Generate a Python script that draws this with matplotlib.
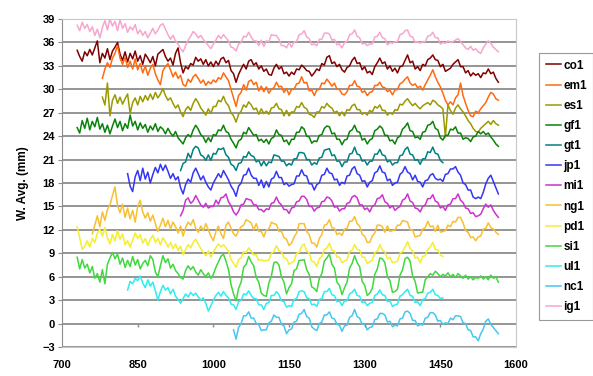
import numpy as np
import matplotlib
matplotlib.use('Agg')
import matplotlib.pyplot as plt

plt.rcParams['font.family'] = ['Liberation Sans', 'DejaVu Sans']
plt.rcParams['font.weight'] = 'bold'

# %%
# series values sampled every 5 years, start year given per series
names = ['co1', 'em1', 'es1', 'gf1', 'gt1', 'jp1', 'mi1',
         'ng1', 'pd1', 'si1', 'ul1', 'nc1', 'ig1']
starts = [730, 780, 780, 730, 935, 830, 935, 760, 730, 730, 830, 1040, 730]
colors = ['#800000', '#FF6A10', '#9A9A00', '#0A820A', '#008080', '#3535F5',
          '#CC33CC', '#F8C030', '#F4EE30', '#40D840', '#30ECF0', '#44C8F0',
          '#F7A6CE']

co1 = [35.0, 34.2, 33.6, 34.8, 34.3, 35.1, 34.4, 35.3, 36.2, 33.4,
       34.6, 34.0, 35.2, 33.8, 34.9, 35.4, 36.0, 34.5, 33.7, 34.8,
       33.5, 34.6, 33.9, 34.9, 33.6, 34.3, 33.2, 34.5, 34.0, 33.4,
       34.2, 33.0, 34.5, 34.8, 35.1, 34.2, 33.6, 34.0, 33.1, 34.6,
       35.3, 33.4, 32.1, 32.9, 32.6, 33.3, 33.1, 34.1, 33.6, 33.9,
       33.2, 33.8, 33.0, 33.5, 32.9, 33.6, 33.1, 33.9, 34.1, 33.4,
       33.7, 32.4, 32.0, 30.9, 31.9, 32.6, 33.2, 32.6, 33.6, 33.8,
       33.1, 33.4, 32.6, 33.0, 32.3, 32.6, 31.9, 31.8, 32.7, 33.2,
       32.6, 32.9, 32.0, 32.2, 31.7, 32.2, 31.9, 32.6, 32.5, 33.1,
       32.8, 32.4, 32.3, 31.7, 32.1, 32.6, 32.4, 33.3, 33.1, 34.1,
       34.3, 33.3, 33.5, 32.9, 33.2, 32.5, 32.2, 32.8, 33.0, 33.7,
       34.1, 33.3, 33.4, 32.5, 32.9, 32.1, 32.3, 31.9, 32.9, 33.4,
       34.0, 33.3, 33.5, 32.6, 33.0, 32.3, 32.7, 32.1, 32.9, 33.0,
       33.7, 34.4, 33.4, 33.6, 32.6, 32.9, 32.4, 33.2, 33.0, 33.8,
       34.0, 34.4, 33.8, 33.7, 32.9, 33.2, 32.3, 32.5, 32.7, 33.2,
       33.5, 33.8, 32.9, 32.9, 32.1, 32.4, 31.7, 32.1, 31.8, 32.0,
       31.5, 32.1, 32.0, 32.6, 32.0, 32.2, 31.4, 30.9]

em1 = [31.4, 32.6, 33.4, 32.8, 34.0, 34.6, 35.6, 34.0, 33.2, 34.1,
       32.8, 33.6, 32.6, 33.9, 32.5, 33.3, 32.1, 33.0, 31.8, 32.7,
       33.2, 32.0, 31.2, 30.6, 32.4, 32.9, 33.3, 32.5, 31.6, 32.2,
       31.4, 31.8, 30.6, 30.4, 31.3, 30.9, 31.6, 31.9, 31.4, 30.8,
       31.2, 30.5, 31.0, 30.7, 31.2, 30.9, 31.5, 31.3, 32.1, 31.6,
       31.1, 30.0, 28.9, 27.8, 29.2, 29.6, 30.6, 29.9, 31.0, 31.2,
       30.6, 30.9, 29.8, 30.4, 29.7, 30.3, 29.5, 30.0, 30.2, 30.9,
       30.3, 30.4, 29.6, 30.1, 29.3, 30.0, 30.0, 30.7, 30.8, 31.6,
       30.8, 30.9, 29.8, 29.9, 29.2, 29.9, 30.0, 30.8, 30.7, 31.3,
       30.9, 30.4, 30.8, 30.0, 30.0, 29.4, 29.3, 29.7, 30.5, 30.5,
       31.1, 30.4, 30.3, 29.6, 29.8, 29.2, 29.6, 29.7, 30.5, 30.5,
       30.9, 30.3, 30.2, 29.7, 29.9, 29.3, 29.9, 30.0, 30.7, 30.9,
       31.3, 31.6, 30.8, 30.5, 30.7, 30.2, 30.4, 29.9, 30.6, 31.2,
       31.8, 32.5, 31.6, 30.9, 30.3, 29.5, 28.6, 28.0, 28.4, 28.0,
       28.9, 29.3, 30.8, 29.2, 28.2, 27.3, 26.6, 26.5, 27.2, 27.0,
       27.5, 27.9, 28.3, 29.0, 29.6, 29.4, 28.8, 28.6]

es1 = [29.0, 28.0, 30.8, 26.6, 28.6, 29.3, 28.2, 29.0, 28.1, 28.8,
       29.4, 26.9, 28.3, 28.9, 28.0, 29.1, 28.4, 29.2, 28.6, 29.4,
       28.7, 29.6, 28.9, 29.4, 30.1, 29.2, 28.6, 28.9, 28.2, 27.6,
       28.0, 27.1, 26.5, 27.4, 27.8, 27.3, 28.2, 28.8, 28.3, 27.6,
       27.2, 26.7, 27.5, 26.9, 27.8, 27.8, 28.6, 28.4, 29.1, 28.3,
       27.9, 27.0, 26.6, 25.8, 26.8, 27.2, 28.0, 27.7, 28.4, 28.0,
       27.4, 27.6, 26.8, 27.5, 26.9, 27.2, 26.8, 27.6, 27.7, 28.2,
       27.5, 27.4, 26.6, 27.3, 26.6, 27.1, 27.1, 27.8, 27.7, 28.3,
       27.7, 27.5, 26.8, 26.7, 26.4, 27.1, 27.1, 27.8, 27.6, 28.2,
       27.8, 27.6, 27.0, 27.2, 26.6, 27.1, 26.6, 27.4, 27.3, 27.9,
       28.1, 27.4, 27.4, 26.8, 27.0, 26.7, 27.3, 27.1, 27.8, 27.6,
       28.0, 27.3, 27.3, 26.7, 27.0, 26.8, 27.4, 27.3, 28.1, 28.0,
       28.5, 28.8, 28.3, 27.9, 28.2, 27.8, 27.5, 27.9, 28.1, 28.3,
       28.0, 28.6, 28.4, 28.0, 27.8, 27.5, 23.9, 28.0, 27.3, 26.8,
       27.6, 28.0, 27.5, 27.1, 26.6, 26.0, 25.6, 25.0, 24.6, 24.5,
       25.0, 25.3, 25.6, 25.9, 25.5, 26.0, 25.6, 25.4]

gf1 = [25.1, 24.4, 26.0, 25.0, 26.3, 24.8, 25.9, 25.2, 26.4, 24.9,
       25.6, 24.5, 25.4, 24.3, 25.3, 26.2, 25.1, 25.9, 24.7, 25.6,
       25.0, 26.7, 25.3, 25.9, 24.8, 25.7, 25.0, 25.5, 24.5, 25.3,
       24.8, 25.6, 24.6, 25.2, 24.9, 24.3, 25.0, 24.4, 24.0, 24.6,
       23.8, 23.4, 23.0, 23.8, 24.2, 23.9, 24.8, 25.4, 24.9, 24.2,
       23.9, 23.2, 23.8, 23.3, 24.2, 24.1, 24.8, 24.7, 25.4, 24.6,
       24.4, 23.6, 23.1, 22.5, 23.4, 23.6, 24.5, 24.3, 25.1, 24.6,
       24.1, 24.2, 23.4, 23.6, 23.2, 23.6, 23.0, 23.7, 23.9, 24.8,
       24.2, 24.1, 23.3, 23.5, 22.9, 23.6, 23.6, 24.5, 24.5, 25.2,
       24.9, 24.0, 23.9, 23.1, 23.4, 23.3, 24.1, 24.2, 25.0, 25.3,
       25.2, 24.3, 24.4, 23.6, 23.6, 22.9, 23.5, 23.6, 24.6, 24.8,
       25.4, 24.6, 24.5, 23.5, 23.7, 23.0, 23.5, 23.7, 24.7, 24.9,
       25.3, 25.0, 24.1, 24.1, 23.4, 23.5, 23.0, 23.8, 24.0, 24.9,
       25.2, 25.7, 24.7, 24.6, 23.8, 23.9, 23.6, 24.5, 24.6, 25.4,
       25.5, 25.9, 25.0, 24.8, 23.8, 23.5, 24.1, 24.1, 24.9, 24.8,
       25.2, 24.4, 24.4, 23.6, 23.8, 23.7, 23.3, 23.9, 24.0, 24.6,
       24.3, 24.6, 24.2, 24.4, 23.9, 23.5, 23.0, 22.7]

gt1 = [19.6, 20.5, 20.7, 21.8, 21.2, 22.3, 22.7, 22.5, 21.6, 21.4,
       20.9, 21.6, 20.9, 21.8, 21.7, 22.4, 22.3, 22.5, 21.6, 21.3,
       20.4, 20.2, 19.6, 20.5, 20.6, 21.4, 21.3, 22.0, 21.5, 21.4,
       20.7, 20.9, 20.2, 20.8, 20.2, 20.7, 20.6, 21.6, 21.5, 21.4,
       20.8, 20.8, 20.2, 20.5, 20.3, 21.1, 21.1, 21.9, 21.9, 21.8,
       21.0, 21.0, 20.3, 20.6, 20.4, 21.2, 21.3, 22.2, 22.3, 22.4,
       21.5, 21.6, 20.8, 20.8, 20.1, 20.7, 20.7, 21.7, 21.8, 22.6,
       21.7, 21.6, 20.8, 20.9, 20.3, 20.8, 20.8, 21.7, 21.7, 22.3,
       21.6, 21.5, 20.7, 20.9, 20.3, 20.6, 20.6, 21.5, 21.6, 22.3,
       22.6, 21.7, 21.6, 20.9, 21.0, 20.4, 21.1, 21.1, 22.0, 21.9,
       22.6, 21.8, 21.7, 20.9, 20.6]

jp1 = [19.2, 17.6, 16.9, 18.8, 19.6, 18.3, 19.9, 18.5, 19.4, 18.0,
       19.1, 20.0, 19.3, 20.4, 19.6, 20.3, 19.5, 18.6, 19.2, 18.4,
       18.8, 17.4, 16.6, 17.8, 18.5, 18.1, 19.3, 19.9, 19.2, 18.4,
       18.9, 18.1, 17.5, 17.1, 18.0, 18.6, 19.2, 18.7, 19.6, 19.0,
       18.4, 17.6, 17.1, 16.3, 17.6, 18.0, 19.0, 19.1, 19.9, 19.0,
       18.6, 18.6, 17.7, 18.4, 17.4, 18.2, 17.5, 18.5, 18.7, 19.5,
       18.7, 18.7, 17.8, 18.0, 17.6, 17.8, 17.9, 18.9, 18.9, 19.7,
       19.0, 18.9, 17.9, 17.9, 17.1, 17.8, 18.0, 19.0, 19.1, 19.9,
       19.3, 19.2, 18.4, 18.5, 17.7, 18.1, 17.9, 18.9, 19.0, 19.8,
       20.1, 19.2, 19.0, 18.2, 18.3, 17.5, 18.1, 18.3, 19.3, 19.5,
       20.2, 19.4, 19.3, 18.3, 18.5, 17.7, 18.0, 18.1, 19.1, 19.4,
       20.1, 19.4, 19.2, 18.4, 19.0, 18.2, 18.1, 17.5, 18.3, 18.4,
       19.0, 19.2, 18.6, 18.4, 18.5, 18.2, 19.1, 19.2, 19.8, 19.8,
       20.1, 19.4, 19.0, 18.0, 17.8, 17.1, 17.1, 16.2, 16.0, 16.2,
       16.0, 16.8, 17.9, 18.6, 19.0, 18.2, 17.4, 16.6]

mi1 = [13.8, 14.5, 15.8, 16.1, 15.4, 15.7, 16.4, 15.8, 15.2, 14.9,
       15.4, 14.8, 15.0, 15.0, 15.8, 15.3, 16.1, 16.2, 16.6, 15.6,
       15.1, 14.3, 13.9, 14.4, 15.2, 15.3, 16.0, 15.9, 15.8, 15.2,
       15.2, 14.6, 14.6, 14.3, 14.7, 14.6, 15.4, 15.5, 16.2, 15.5,
       15.2, 14.6, 14.6, 14.1, 14.8, 14.9, 15.6, 15.7, 16.3, 16.3,
       15.9, 15.0, 15.0, 14.4, 14.8, 14.9, 15.6, 15.7, 16.2, 16.1,
       15.7, 14.9, 15.0, 14.4, 14.7, 14.7, 15.4, 15.5, 16.2, 16.4,
       16.1, 15.2, 15.2, 14.6, 14.8, 14.3, 15.0, 15.2, 16.0, 16.1,
       16.5, 15.6, 15.4, 14.8, 15.1, 14.5, 14.8, 15.0, 15.8, 16.0,
       16.6, 15.7, 15.5, 14.8, 14.7, 14.3, 15.0, 15.2, 16.0, 16.0,
       16.5, 15.7, 15.5, 14.8, 15.0, 14.5, 15.2, 15.3, 16.0, 16.0,
       16.6, 15.8, 15.5, 14.8, 14.7, 14.1, 14.2, 13.7, 13.8, 14.0,
       14.7, 15.3, 14.9, 15.2, 14.5, 14.0, 13.6]

ng1 = [11.5, 12.6, 13.8, 12.4, 14.3, 13.2, 14.6, 15.2, 16.4, 17.5,
       15.1, 14.2, 15.3, 13.6, 14.8, 13.4, 14.5, 13.0, 15.0, 15.8,
       14.3, 13.5, 14.2, 13.1, 13.9, 12.8, 11.8, 12.6, 13.5, 12.4,
       13.2, 12.1, 13.0, 12.4, 11.6, 12.5, 11.2, 12.3, 13.0, 12.6,
       13.3, 12.2, 11.7, 12.5, 11.9, 12.8, 12.0, 11.2, 10.6, 11.8,
       12.5, 11.5, 10.9, 12.6, 13.0, 12.2, 11.5, 11.2, 11.9, 12.4,
       12.6, 13.3, 13.1, 12.9, 12.0, 12.8, 11.8, 11.8, 11.1, 12.0,
       12.1, 13.0, 12.8, 12.7, 11.8, 11.8, 11.0, 10.8, 10.0, 10.3,
       11.1, 11.6, 12.8, 12.8, 12.8, 11.8, 11.4, 10.3, 10.3, 9.8,
       10.9, 11.4, 12.6, 12.7, 13.3, 12.3, 12.2, 11.4, 11.6, 11.3,
       12.1, 12.2, 13.1, 13.1, 13.7, 12.8, 12.5, 11.4, 11.2, 10.4,
       10.4, 11.2, 11.6, 12.6, 12.6, 12.4, 11.7, 12.5, 11.8, 11.9,
       12.0, 12.6, 12.6, 13.2, 13.1, 13.0, 12.0, 12.0, 11.1, 11.2,
       11.3, 12.1, 12.3, 13.1, 12.4, 12.5, 11.8, 12.6, 11.7, 11.8,
       11.9, 12.6, 12.4, 13.1, 13.0, 13.6, 13.6, 12.9, 11.9, 11.7,
       11.0, 11.1, 10.6, 11.1, 11.2, 12.1, 12.2, 12.9, 12.3, 12.1,
       11.7, 11.4]

pd1 = [12.4, 11.0, 9.5, 9.9, 10.6, 9.8, 10.9, 10.4, 11.6, 12.1,
       11.2, 12.3, 11.0, 10.2, 11.4, 10.6, 11.9, 10.8, 11.5, 10.1,
       10.6, 9.8, 10.7, 11.6, 10.9, 11.4, 10.3, 10.9, 10.0, 10.8,
       11.3, 10.4, 10.9, 10.1, 11.0, 10.5, 9.8, 10.4, 9.6, 10.2,
       9.4, 9.9, 8.8, 9.5, 10.1, 9.7, 10.4, 10.8, 10.2, 9.6,
       9.1, 8.7, 9.3, 8.5, 9.2, 9.7, 10.2, 9.8, 10.1, 9.7,
       9.3, 8.2, 7.7, 7.2, 8.2, 8.4, 9.2, 9.1, 9.7, 9.3,
       8.8, 8.8, 8.1, 8.2, 8.0, 8.1, 8.1, 9.0, 9.2, 10.0,
       9.3, 9.2, 8.4, 8.3, 7.6, 7.8, 8.0, 9.0, 9.1, 9.9,
       10.2, 9.3, 9.0, 8.0, 7.9, 7.3, 8.3, 8.6, 9.5, 9.7,
       10.3, 9.4, 9.3, 8.5, 8.5, 7.8, 8.0, 8.2, 9.2, 9.4,
       10.1, 9.5, 9.4, 8.5, 8.5, 7.7, 7.9, 8.1, 9.1, 9.3,
       10.1, 9.4, 9.2, 8.3, 8.5, 7.8, 7.9, 8.0, 9.0, 9.2,
       9.8, 10.5, 9.6, 9.3, 8.4, 8.5, 7.8, 8.6, 8.7, 9.5,
       9.8, 10.4, 9.5, 9.4, 8.8, 8.6]

si1 = [8.5, 7.0, 8.2, 7.1, 7.6, 6.5, 7.3, 5.8, 6.4, 5.3,
       6.9, 5.1, 7.6, 8.4, 9.1, 8.3, 8.9, 7.6, 8.4, 7.2,
       8.1, 7.3, 8.6, 7.5, 8.2, 7.0, 7.7, 8.1, 7.4, 8.7,
       8.2, 6.6, 6.0, 7.4, 8.7, 7.8, 8.3, 7.1, 7.6, 6.8,
       6.4, 5.9, 5.7, 6.8, 7.4, 6.9, 7.3, 6.6, 6.2, 6.9,
       6.4, 6.0, 6.5, 5.8, 6.3, 7.2, 7.9, 8.6, 8.9, 8.0,
       6.9, 5.0, 3.8, 2.9, 4.5, 5.3, 7.2, 7.6, 8.6, 7.9,
       7.4, 5.9, 5.3, 3.9, 3.6, 3.5, 5.2, 6.1, 7.8, 7.9,
       7.5, 6.0, 5.3, 3.8, 4.6, 5.1, 6.8, 7.0, 8.1, 8.1,
       8.2, 6.9, 6.3, 4.7, 4.5, 4.1, 5.8, 6.4, 8.0, 8.4,
       8.9, 7.6, 7.1, 5.3, 4.9, 3.7, 4.6, 5.3, 7.1, 7.7,
       8.7, 7.8, 7.3, 5.4, 4.9, 3.6, 3.9, 4.5, 6.3, 7.0,
       8.4, 8.3, 7.8, 6.0, 5.5, 4.0, 4.1, 4.4, 6.2, 6.9,
       8.3, 8.5, 8.0, 6.1, 5.4, 3.9, 4.0, 4.0, 5.6, 6.0,
       6.4, 6.2, 6.7, 6.4, 6.0, 6.3, 6.1, 6.5, 6.0, 6.3,
       5.9, 6.4, 6.1, 5.8, 6.2, 5.7, 6.0, 5.6, 5.9, 5.8,
       6.1, 5.7, 6.0, 5.6, 6.2, 5.8, 6.0, 5.3]

ul1 = [4.3, 5.4, 5.1, 5.8, 5.5, 6.1, 5.2, 4.6, 5.6, 4.8,
       5.3, 4.2, 3.0, 4.1, 4.9, 4.3, 4.6, 3.8, 4.4, 3.5,
       3.1, 2.6, 3.2, 3.8, 3.4, 4.0, 3.6, 3.9, 3.4, 3.0,
       3.3, 2.6, 1.6, 2.3, 3.0, 3.6, 4.0, 3.5, 4.1, 3.6,
       3.3, 2.5, 2.4, 1.8, 2.8, 3.0, 3.8, 3.7, 4.2, 3.6,
       3.2, 3.2, 2.4, 2.4, 1.8, 2.6, 2.7, 3.6, 3.6, 4.1,
       3.7, 2.9, 2.8, 2.1, 2.3, 2.2, 3.1, 3.2, 4.1, 4.2,
       4.1, 3.3, 3.2, 2.4, 2.5, 2.2, 3.1, 3.2, 4.1, 4.1,
       4.5, 3.7, 3.6, 2.8, 2.9, 2.3, 2.9, 2.9, 3.8, 4.0,
       4.4, 3.6, 3.5, 2.7, 2.8, 2.3, 2.6, 2.7, 3.6, 3.8,
       4.3, 3.7, 3.6, 2.8, 2.9, 2.2, 2.4, 2.5, 3.5, 3.7,
       4.1, 4.4, 3.6, 3.5, 2.7, 2.8, 2.3, 3.1, 3.2, 3.9,
       4.0, 4.4, 3.7, 3.6, 3.2, 3.3]

nc1 = [-0.8, -2.0, -0.5, 0.0, 1.0, 1.0, 1.5, 0.7, 0.7, 0.0,
       -0.1, -0.9, -0.8, -0.8, 0.1, 0.3, 1.1, 0.8, 0.8, -0.1,
       -0.3, -1.3, -0.8, -0.7, 0.2, 0.3, 1.2, 1.3, 1.8, 0.9,
       0.7, -0.4, -0.7, -0.9, 0.0, 0.2, 1.1, 1.1, 1.5, 0.7,
       0.6, -0.1, -0.2, -1.0, -0.3, -0.2, 0.8, 1.0, 1.8, 0.9,
       0.7, -0.1, -0.1, -0.8, -0.5, -0.4, 0.5, 0.6, 1.3, 1.3,
       1.1, 0.2, 0.3, -0.4, -0.2, -0.3, 0.6, 0.7, 1.5, 1.6,
       1.3, 0.4, 0.4, -0.3, -0.1, -0.2, 0.7, 0.8, 1.4, 1.4,
       1.1, 0.3, 0.4, -0.1, 0.1, 0.0, 0.7, 0.5, 1.0, 1.0,
       0.9, 0.1, 0.0, -0.8, -0.9, -1.7, -1.7, -2.2, -1.3, -0.7,
       0.3, 0.6, -0.1, -0.5, -0.9, -1.3]

ig1 = [38.2, 37.5, 38.6, 37.8, 38.3, 37.4, 38.0, 36.9, 37.7, 36.6,
       37.9, 38.8, 37.6, 39.0, 38.1, 38.7, 37.5, 38.9, 37.8, 38.4,
       37.3, 38.0, 37.6, 38.3, 37.1, 37.6, 36.9, 37.4, 36.6, 37.2,
       37.8, 37.1, 37.6, 38.2, 38.4, 37.7, 37.0, 36.4, 36.9, 36.2,
       35.8, 35.2, 34.8, 35.6, 36.3, 36.8, 37.4, 37.1, 36.6, 36.9,
       36.4, 36.0, 35.6, 35.2, 35.8, 36.3, 36.9, 36.5, 37.0, 36.6,
       36.2, 35.4, 35.3, 34.9, 35.8, 36.0, 36.8, 36.7, 37.3, 36.7,
       36.2, 36.2, 35.6, 36.3, 35.5, 36.2, 36.1, 37.0, 36.9, 36.9,
       36.4, 35.6, 35.6, 35.3, 36.0, 35.4, 36.1, 36.1, 37.0, 37.1,
       37.5, 36.7, 36.5, 35.7, 35.8, 35.6, 36.4, 36.4, 37.2, 37.2,
       37.1, 36.3, 36.4, 35.7, 35.8, 35.3, 36.0, 36.1, 37.0, 37.1,
       37.6, 36.8, 36.6, 35.8, 35.9, 35.6, 35.8, 35.8, 36.7, 36.8,
       37.3, 36.6, 36.5, 35.7, 36.0, 35.9, 36.1, 36.1, 37.0, 37.1,
       37.5, 37.6, 36.8, 36.7, 36.0, 36.1, 35.9, 36.1, 36.1, 36.8,
       36.9, 37.3, 36.6, 36.6, 35.8, 36.0, 35.9, 36.2, 36.0, 36.1,
       36.3, 36.5, 36.1, 35.7, 35.3, 35.1, 35.5, 35.0, 35.2, 34.8,
       34.6, 35.3, 35.8, 36.2, 35.9, 35.4, 35.1, 34.8]

series = [co1, em1, es1, gf1, gt1, jp1, mi1, ng1, pd1, si1, ul1, nc1, ig1]
x_ticks = [700, 850, 1000, 1150, 1300, 1450, 1600]
y_ticks = list(range(-3, 40, 3))

# %%
fig = plt.figure(figsize=(5.93, 3.76), dpi=100)
ax = fig.add_axes([0.1046, 0.0771, 0.7656, 0.8723])

for name, st, c, vals in zip(names, starts, colors, series):
    yrs = st + 5 * np.arange(len(vals))
    ax.plot(yrs, vals, color=c, lw=1.1, label=name)

ax.set_xlim(700, 1600)
ax.set_ylim(-3, 39)
ax.set_xticks(x_ticks)
ax.set_yticks(y_ticks)
ax.yaxis.grid(True, color='#8c8c8c', lw=1.3)
ax.set_axisbelow(True)
ax.tick_params(axis='x', length=0, labelsize=8, pad=9)
ax.tick_params(axis='y', length=3, color='#8c8c8c', labelsize=8, pad=2)
for s in ['top', 'right', 'bottom']:
    ax.spines[s].set_color('#c8c8c8')
ax.spines['left'].set_color('#8c8c8c')
# little x ticks sitting on the zero line
ax.vlines(x_ticks[1:-1], -0.45, 0, color='#8c8c8c', lw=1)
ax.set_ylabel('W. Avg. (mm)', fontsize=8.5, fontweight='bold', labelpad=10)

leg = fig.legend(loc='upper left', bbox_to_anchor=(0.909, 0.859),
                 borderaxespad=0, fontsize=8.5, handlelength=1.3,
                 handletextpad=0.2, labelspacing=0.69, fancybox=False,
                 frameon=True, borderpad=0.55)
leg.get_frame().set_edgecolor('#808080')
leg.get_frame().set_linewidth(0.8)

plt.savefig('out.png', dpi=100)
